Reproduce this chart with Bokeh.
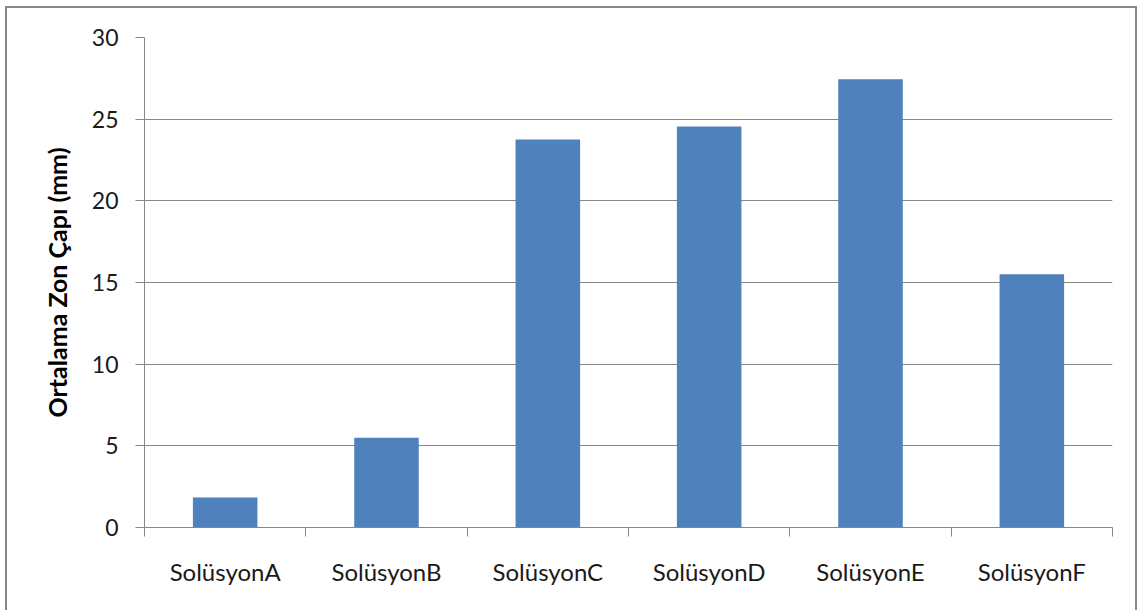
from bokeh.plotting import figure
from bokeh.models import ColumnDataSource, Range1d, FixedTicker
from bokeh.embed import file_html
from bokeh.resources import INLINE

categories = ["SolüsyonA", "SolüsyonB", "SolüsyonC", "SolüsyonD", "SolüsyonE", "SolüsyonF"]
values = [1.83, 5.5, 23.75, 24.55, 27.45, 15.5]
y_ticks = [0, 5, 10, 15, 20, 25, 30]
y_title = "Ortalama Zon Çapı (mm)"

positions = list(range(1, len(categories) + 1))
boundaries = [p_ - 0.5 for p_ in positions] + [positions[-1] + 0.5]

source = ColumnDataSource(dict(x=positions, top=values, name=categories))

FONT = "Lato"
GRAY = "#868686"

p = figure(width=1132, height=608, output_backend="svg", toolbar_location=None,
           x_range=Range1d(0.5, len(categories) + 0.5), y_range=Range1d(0, 30),
           min_border_left=137, min_border_right=27, min_border_top=29, min_border_bottom=89)
p.margin = (6, 0, 0, 5)
p.styles = {"border": "2px solid #878787"}
p.outline_line_color = None
p.background_fill_color = "white"
p.border_fill_color = "white"

p.vbar(x="x", top="top", width=0.4, source=source, fill_color="#4F81BD", line_color=None)

# x axis
xa = p.xaxis[0]
xa.ticker = FixedTicker(ticks=positions, minor_ticks=boundaries)
xa.major_label_overrides = {pos: name for pos, name in zip(positions, categories)}
xa.major_tick_line_color = None
xa.minor_tick_line_color = GRAY
xa.minor_tick_out = 9
xa.minor_tick_in = 0
xa.axis_line_color = GRAY
xa.major_label_text_font = FONT
xa.major_label_text_font_size = "24px"
xa.major_label_text_color = "#1a1a1a"
xa.major_label_standoff = 20

# y axis
ya = p.yaxis[0]
ya.ticker = FixedTicker(ticks=y_ticks, minor_ticks=[])
ya.major_tick_line_color = GRAY
ya.major_tick_out = 9
ya.major_tick_in = 0
ya.axis_line_color = GRAY
ya.major_label_text_font = FONT
ya.major_label_text_font_size = "23px"
ya.major_label_text_color = "#1a1a1a"
ya.major_label_standoff = 17
ya.axis_label = y_title
ya.axis_label_text_font = FONT
ya.axis_label_text_font_style = "bold"
ya.axis_label_text_font_size = "25px"
ya.axis_label_text_color = "#000000"
ya.axis_label_standoff = 17

p.xgrid.grid_line_color = None
p.ygrid.ticker = FixedTicker(ticks=y_ticks)
p.ygrid.grid_line_color = GRAY
p.ygrid.grid_line_width = 1

open("out.html", "w").write(file_html(p, INLINE))
